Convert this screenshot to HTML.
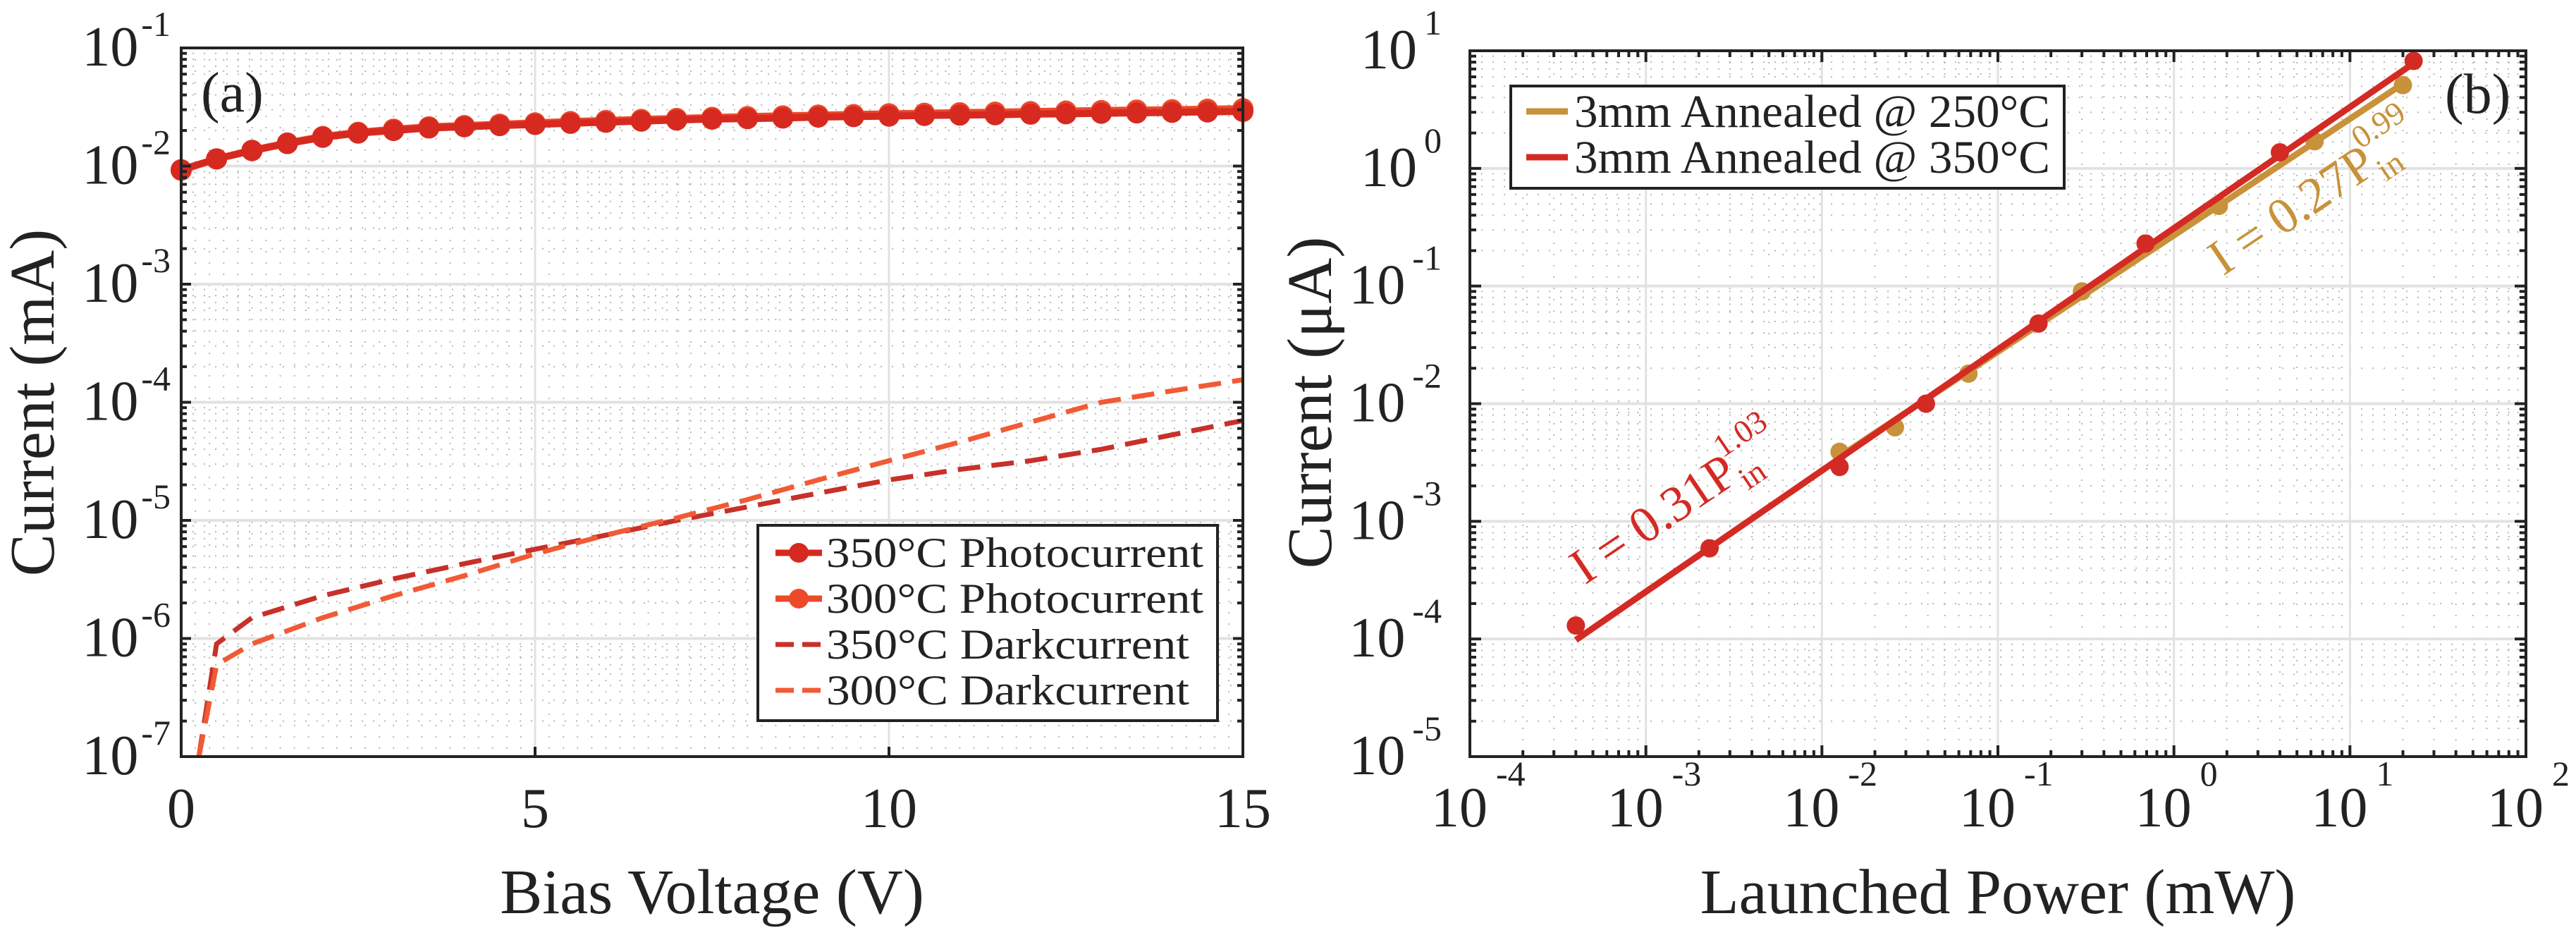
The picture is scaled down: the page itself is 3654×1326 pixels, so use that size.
<!DOCTYPE html>
<html><head><meta charset="utf-8"><style>
html,body{margin:0;padding:0;background:#fff}
svg{display:block;font-family:"Liberation Serif",serif}
</style></head><body>
<svg id="fig" width="3654" height="1326" viewBox="0 0 3654 1326" xmlns="http://www.w3.org/2000/svg">
<g id="pa"></g>
<g id="pb"></g>
</svg>
<script>
// ---- Panel (a) data ----
const aVolt = [0,0.5,1,1.5,2,2.5,3,3.5,4,4.5,5,5.5,6,6.5,7,7.5,8,8.5,9,9.5,10,10.5,11,11.5,12,12.5,13,13.5,14,14.5,15];
const aPhoto350 = [0.0093,0.0115,0.0135,0.0155,0.0175,0.019,0.02,0.021,0.0215,0.022,0.0225,0.023,0.0235,0.024,0.0245,0.025,0.0252,0.0255,0.026,0.0262,0.0265,0.0268,0.027,0.0272,0.0275,0.0277,0.028,0.0282,0.0285,0.0287,0.029];
const aPhoto300 = [0.0092,0.0115,0.0136,0.0157,0.0178,0.0193,0.0205,0.0215,0.022,0.0226,0.0232,0.0238,0.0243,0.0248,0.0253,0.0258,0.0262,0.0266,0.027,0.0273,0.0277,0.028,0.0283,0.0286,0.0289,0.0292,0.0295,0.0298,0.03,0.0303,0.0306];
const aDarkV = [0.25,0.5,1,2,3,4,5,6,7,8,9,10,11,12,13,14,15];
const aDark350 = [1e-7,9e-7,1.5e-6,2.3e-6,3.2e-6,4.3e-6,5.7e-6,7.5e-6,1e-5,1.3e-5,1.7e-5,2.2e-5,2.7e-5,3.2e-5,4e-5,5.3e-5,7e-5];
const aDark300 = [1e-7,6e-7,9e-7,1.5e-6,2.3e-6,3.4e-6,5.2e-6,7.5e-6,1.05e-5,1.5e-5,2.2e-5,3.2e-5,4.6e-5,6.8e-5,1e-4,1.25e-4,1.55e-4];
const aXTicks = [0,5,10,15];
const aYExp = [-7,-6,-5,-4,-3,-2,-1];
const aLegend = ["350°C Photocurrent","300°C Photocurrent","350°C Darkcurrent","300°C Darkcurrent"];
// ---- Panel (b) data ----
const bP350 = [4e-4,2.3e-3,1.26e-2,3.9e-2,0.17,0.69,4.0,23];
const bI350 = [1.3e-4,5.9e-4,2.9e-3,1.0e-2,0.048,0.23,1.37,8.2];
const bP250 = [1.26e-2,0.026,0.068,0.30,1.8,6.3,20];
const bI250 = [3.9e-3,6.3e-3,0.018,0.09,0.48,1.7,5.1];
const bFit350 = [0.31,1.03];
const bFit250 = [0.27,0.99];
const bXExp = [-4,-3,-2,-1,0,1,2];
const bYExp = [-5,-4,-3,-2,-1,0,1];
const bLegend = ["3mm Annealed @ 250°C","3mm Annealed @ 350°C"];

const NS="http://www.w3.org/2000/svg";
function mk(parent,tag,attrs,text){const e=document.createElementNS(NS,tag);for(const k in attrs)e.setAttribute(k,attrs[k]);if(text!==undefined)e.textContent=text;parent.appendChild(e);return e;}
function pathOf(xs,ys,fx,fy){return xs.map((x,i)=>(i?'L':'M')+fx(x).toFixed(1)+' '+fy(ys[i]).toFixed(1)).join(' ');}
const DOT={stroke:'#b8b8b8','stroke-width':2,'stroke-dasharray':'2 14'};

// ===== Panel A =====
const A={l:257,r:1763,t:68,b:1073};
const ax=v=>A.l+(v-0)/15*(A.r-A.l);
const ay=v=>A.b-(Math.log10(v)+7)/6*(A.b-A.t);
const pa=document.getElementById('pa');
const ga=mk(pa,'g',{});


for(let v=0.2;v<15;v+=0.2){const x=ax(v);mk(ga,'line',Object.assign({x1:x,x2:x,y1:A.t,y2:A.b},DOT));}
for(let e=-7;e<-1;e++)for(let m=2;m<10;m++){const y=ay(m*Math.pow(10,e));mk(ga,'line',Object.assign({x1:A.l,x2:A.r,y1:y,y2:y},DOT));}
aXTicks.forEach(v=>{if(v>0&&v<15)mk(ga,'line',{x1:ax(v),x2:ax(v),y1:A.t,y2:A.b,stroke:'#e2e2e2','stroke-width':3});});
aYExp.forEach(e=>{if(e>-7&&e<-1)mk(ga,'line',{x1:A.l,x2:A.r,y1:ay(Math.pow(10,e)),y2:ay(Math.pow(10,e)),stroke:'#e2e2e2','stroke-width':4});});
const d350=mk(pa,'path',{d:pathOf(aDarkV,aDark350,ax,ay),fill:'none',stroke:'#c8302a','stroke-width':7,'stroke-dasharray':'32 16'});


const d300=mk(pa,'path',{d:pathOf(aDarkV,aDark300,ax,ay),fill:'none',stroke:'#f05a35','stroke-width':7,'stroke-dasharray':'32 16'});


[[aPhoto300,'#ec4a2a','photocurrent-300'],[aPhoto350,'#d62a20','photocurrent-350']].forEach(([ys,c,n])=>{
  const g=mk(pa,'g',{});
  
  
  mk(g,'path',{d:pathOf(aVolt,ys,ax,ay),fill:'none',stroke:c,'stroke-width':10});
  aVolt.forEach((v,i)=>{const m=mk(g,'circle',{cx:ax(v),cy:ay(ys[i]),r:15,fill:c});
    
    });
});
const boxA=mk(pa,'rect',{x:A.l,y:A.t,width:A.r-A.l,height:A.b-A.t,fill:'none',stroke:'#222','stroke-width':4});


for(let e=-7;e<-1;e++)for(let m=1;m<10;m++){const y=ay(m*Math.pow(10,e));const L=m===1?14:8;
  mk(pa,'line',{x1:A.l,x2:A.l+L,y1:y,y2:y,stroke:'#222','stroke-width':4});mk(pa,'line',{x1:A.r,x2:A.r-L,y1:y,y2:y,stroke:'#222','stroke-width':4});}
aXTicks.forEach(v=>{const x=ax(v);
  mk(pa,'line',{x1:x,x2:x,y1:A.b,y2:A.b-14,stroke:'#222','stroke-width':4});
  const t=mk(pa,'text',{x:x,y:1173,'font-size':80,'text-anchor':'middle',fill:'#222'},String(v));
  
  });
aYExp.forEach(e=>{const y=ay(Math.pow(10,e));
  const t=mk(pa,'text',{x:242,y:y+25,'font-size':80,'text-anchor':'end',fill:'#222'});
  
  
  mk(t,'tspan',{},'10');mk(t,'tspan',{dx:4,dy:-42,'font-size':50},String(e));});
let t=mk(pa,'text',{x:1010,y:1295,'font-size':90,'text-anchor':'middle',fill:'#222'},'Bias Voltage (V)');


t=mk(pa,'text',{x:0,y:0,'font-size':90,'text-anchor':'middle',fill:'#222',transform:'translate(76,571) rotate(-90)'},'Current (mA)');


t=mk(pa,'text',{x:285,y:158,'font-size':80,fill:'#222'},'(a)');


const lgA=mk(pa,'g',{});


mk(lgA,'rect',{x:1075,y:745,width:652,height:277,fill:'#fff',stroke:'#222','stroke-width':4});
const lc=['#d62a20','#ec4a2a','#c8302a','#f05a35'];
aLegend.forEach((s,i)=>{const y=784+i*65;
  const g=mk(lgA,'g',{});
  
  
  if(i<2){mk(g,'line',{x1:1100,x2:1166,y1:y,y2:y,stroke:lc[i],'stroke-width':9});mk(g,'circle',{cx:1133,cy:y,r:14,fill:lc[i]});}
  else mk(g,'line',{x1:1100,x2:1166,y1:y,y2:y,stroke:lc[i],'stroke-width':7,'stroke-dasharray':'26 12'});
  mk(g,'text',{x:1172,y:y+20,'font-size':60,fill:'#222',textLength:i<2?535:515,lengthAdjust:'spacingAndGlyphs'},s);});

// ===== Panel B =====
const B={l:2085,r:3583,t:72,b:1073};
const bx=v=>B.l+(Math.log10(v)+4)/6*(B.r-B.l);
const by=v=>B.b-(Math.log10(v)+5)/6*(B.b-B.t);
const pb=document.getElementById('pb');
const gb=mk(pb,'g',{});


for(let e=-4;e<2;e++)for(let m=2;m<10;m++){const x=bx(m*Math.pow(10,e));mk(gb,'line',Object.assign({x1:x,x2:x,y1:B.t,y2:B.b},DOT));}
for(let e=-5;e<1;e++)for(let m=2;m<10;m++){const y=by(m*Math.pow(10,e));mk(gb,'line',Object.assign({x1:B.l,x2:B.r,y1:y,y2:y},DOT));}
bXExp.forEach(e=>{if(e>-4&&e<2)mk(gb,'line',{x1:bx(Math.pow(10,e)),x2:bx(Math.pow(10,e)),y1:B.t,y2:B.b,stroke:'#e2e2e2','stroke-width':3});});
bYExp.forEach(e=>{if(e>-5&&e<1)mk(gb,'line',{x1:B.l,x2:B.r,y1:by(Math.pow(10,e)),y2:by(Math.pow(10,e)),stroke:'#e2e2e2','stroke-width':4});});
function fitSeries(P,I,fit,c,n){
  const g=mk(pb,'g',{});
  
  
  const p0=P[0],p1=P[P.length-1];
  mk(g,'line',{x1:bx(p0),y1:by(fit[0]*Math.pow(p0,fit[1])),x2:bx(p1),y2:by(fit[0]*Math.pow(p1,fit[1])),stroke:c,'stroke-width':9});
  P.forEach((p,i)=>{const m=mk(g,'circle',{cx:bx(p),cy:by(I[i]),r:13,fill:c});
    
    });
}
fitSeries(bP250,bI250,bFit250,'#c8923a','series-250');
fitSeries(bP350,bI350,bFit350,'#d42a24','series-350');
const boxB=mk(pb,'rect',{x:B.l,y:B.t,width:B.r-B.l,height:B.b-B.t,fill:'none',stroke:'#222','stroke-width':4});


for(let e=-4;e<2;e++)for(let m=1;m<10;m++){const x=bx(m*Math.pow(10,e));const L=m===1?16:9;
  mk(pb,'line',{x1:x,x2:x,y1:B.b,y2:B.b-L,stroke:'#222','stroke-width':4});mk(pb,'line',{x1:x,x2:x,y1:B.t,y2:B.t+L,stroke:'#222','stroke-width':4});}
for(let e=-5;e<1;e++)for(let m=1;m<10;m++){const y=by(m*Math.pow(10,e));const L=m===1?16:9;
  mk(pb,'line',{x1:B.l,x2:B.l+L,y1:y,y2:y,stroke:'#222','stroke-width':4});mk(pb,'line',{x1:B.r,x2:B.r-L,y1:y,y2:y,stroke:'#222','stroke-width':4});}
bXExp.forEach(e=>{const x=bx(Math.pow(10,e));
  const tt=mk(pb,'text',{x:x-55,y:1172,'font-size':80,fill:'#222'});
  
  
  mk(tt,'tspan',{},'10');mk(tt,'tspan',{dx:12,dy:-58,'font-size':50},String(e));});
bYExp.forEach(e=>{const y=by(Math.pow(10,e));
  const tt=mk(pb,'text',{x:2045,y:y+25,'font-size':80,'text-anchor':'end',fill:'#222'});
  
  
  mk(tt,'tspan',{},'10');mk(tt,'tspan',{dx:10,dy:-48,'font-size':50},String(e));});
t=mk(pb,'text',{x:2834,y:1295,'font-size':90,'text-anchor':'middle',fill:'#222'},'Launched Power (mW)');


t=mk(pb,'text',{x:0,y:0,'font-size':90,'text-anchor':'middle',fill:'#222',transform:'translate(1888,571) rotate(-90)'},'Current (μA)');


t=mk(pb,'text',{x:3468,y:160,'font-size':80,fill:'#222'},'(b)');


function eq(x,y,c,coef,ex,n){
  const tt=mk(pb,'text',{x:0,y:0,'font-size':72,fill:c,transform:`translate(${x},${y}) rotate(-34)`});
  
  
  mk(tt,'tspan',{},'I = '+coef+'P');
  mk(tt,'tspan',{dy:18,'font-size':46},'in');
  mk(tt,'tspan',{dx:-40,dy:-58,'font-size':46},ex);
}
eq(bx(4.5e-4),830,'#d42a24',bFit350[0].toFixed(2),bFit350[1].toFixed(2),'equation-350');
eq(bx(1.9),392,'#c8923a',bFit250[0].toFixed(2),bFit250[1].toFixed(2),'equation-250');
const lgB=mk(pb,'g',{});


mk(lgB,'rect',{x:2143,y:122,width:785,height:145,fill:'#fff',stroke:'#222','stroke-width':4});
['#c8923a','#d42a24'].forEach((c,i)=>{const y=158+i*65;
  const g=mk(lgB,'g',{});
  
  
  mk(g,'line',{x1:2165,x2:2224,y1:y,y2:y,stroke:c,'stroke-width':9});
  mk(g,'text',{x:2233,y:y+22,'font-size':66,fill:'#222',textLength:675,lengthAdjust:'spacingAndGlyphs'},bLegend[i]);});
</script>
</body></html>
